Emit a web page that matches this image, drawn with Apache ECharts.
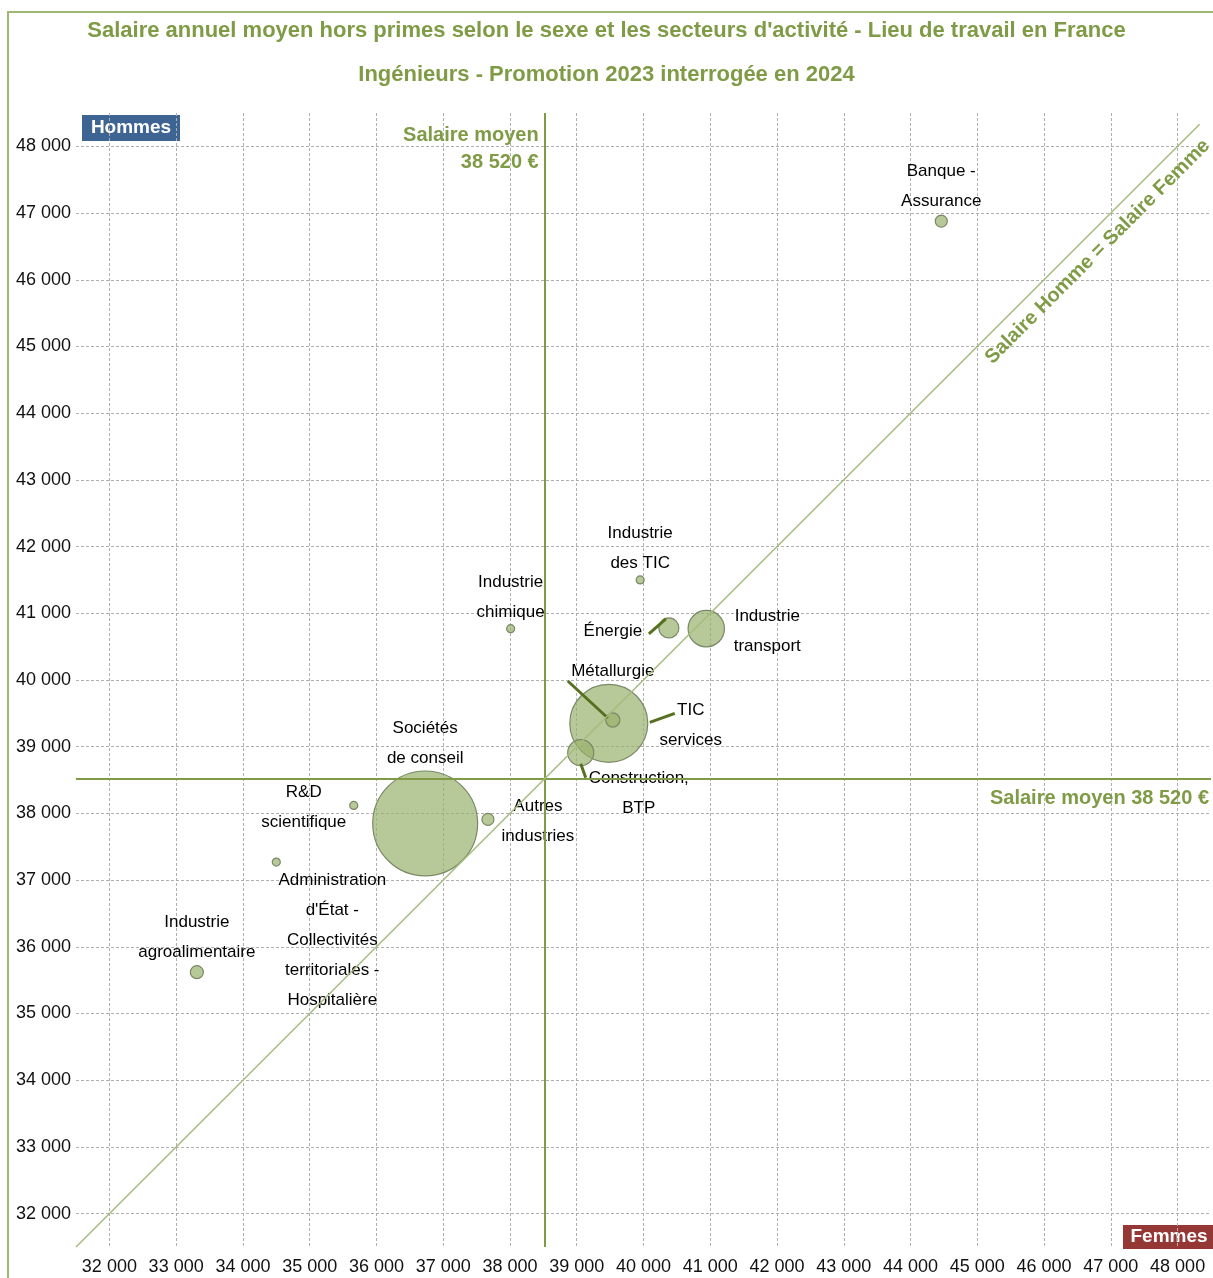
<!DOCTYPE html>
<html>
<head>
<meta charset="utf-8">
<title>Salaire annuel moyen hors primes - Ingénieurs</title>
<script src="https://cdn.jsdelivr.net/npm/echarts@6/dist/echarts.min.js"></script>
<style>
  html, body { margin: 0; padding: 0; background: #fff; }
  #chart { width: 1213px; height: 1278px; }
</style>
</head>
<body>
<div id="chart"></div>
<script>
// secteurs d'activité (libellés sur deux lignes comme dans l'original)
const secteurs = [
  'Banque -\nAssurance',
  'Industrie\ndes TIC',
  'Industrie\nchimique',
  'Énergie',
  'Industrie\ntransport',
  'TIC\nservices',
  'Métallurgie',
  'Construction,\nBTP',
  'Sociétés\nde conseil',
  'Autres\nindustries',
  'R&D\nscientifique',
  "Administration\nd'État -\nCollectivités\nterritoriales -\nHospitalière",
  'Industrie\nagroalimentaire'
];
// salaire moyen des femmes (axe X) et des hommes (axe Y), en euros
const salaireFemmes = [44460, 39950, 38010, 40380, 40940, 39480, 39540, 39060, 36730, 37670, 35660, 34500, 33310];
const salaireHommes = [46880, 41500, 40770, 40780, 40770, 39350, 39400, 38910, 37850, 37910, 38120, 37270, 35620];
// poids relatif de chaque secteur (surface des bulles)
const poids = [36, 16, 16, 100, 330, 1520, 50, 170, 2750, 36, 16, 16, 42];

const salaireMoyen = 38520;
const diagonale = [31500, 48330];
const axisMin = 31500;
const axisMax = 48500;

// décalage des étiquettes par rapport au centre des bulles
const decalages = [
  [0, -35], [0, -32], [0, -31], [-56, 3], [61, 3], [82, 2], [0, -49],
  [58, 41], [0, -80], [50, 2], [-50, 2], [56, 78], [0, -35]
];
// traits de rappel : deux points relatifs au centre de la bulle
const traits = {
  'Énergie': [[-20, 6], [-3, -9]],
  'Métallurgie': [[-45, -39], [-5, -2]],
  'TIC\nservices': [[41, -1], [66, -10]],
  'Construction,\nBTP': [[0, 11], [5, 25]]
};

const police = '"Liberation Sans", Arial, sans-serif';
const vert = '#7f9b45';
const fmt = v => String(v).replace(/\B(?=(\d{3})+(?!\d))/g, ' ');

const chart = echarts.init(document.getElementById('chart'));

const option = {
  backgroundColor: '#fff',
  animation: false,
  title: {
    text: "Salaire annuel moyen hors primes selon le sexe et les secteurs d'activité - Lieu de travail en France",
    subtext: 'Ingénieurs - Promotion 2023 interrogée en 2024',
    left: 'center',
    top: 15,
    itemGap: 22,
    textStyle: { color: vert, fontFamily: police, fontWeight: 'bold', fontSize: 22 },
    subtextStyle: { color: vert, fontFamily: police, fontWeight: 'bold', fontSize: 22 }
  },
  grid: { left: 76, top: 113, width: 1135, height: 1134 },
  xAxis: {
    type: 'value',
    min: axisMin,
    max: axisMax,
    splitNumber: 17,
    axisLine: { show: false },
    axisTick: { show: false },
    axisLabel: {
      showMinLabel: false,
      showMaxLabel: false,
      hideOverlap: false,
      margin: 11,
      color: '#111',
      fontFamily: police,
      fontSize: 18,
      formatter: fmt
    },
    splitLine: {
      show: true,
      showMinLine: false,
      showMaxLine: false,
      lineStyle: { color: '#b0b0b0', width: 1, type: [3, 2] }
    }
  },
  yAxis: {
    type: 'value',
    min: axisMin,
    max: axisMax,
    splitNumber: 17,
    axisLine: { show: false },
    axisTick: { show: false },
    axisLabel: {
      showMinLabel: false,
      showMaxLabel: false,
      hideOverlap: false,
      margin: 5,
      color: '#111',
      fontFamily: police,
      fontSize: 18,
      formatter: fmt
    },
    splitLine: {
      show: true,
      showMinLine: false,
      showMaxLine: false,
      lineStyle: { color: '#b0b0b0', width: 1, type: [3, 2] }
    }
  },
  series: [
    {
      type: 'scatter',
      name: 'Secteurs',
      data: secteurs.map((s, i) => ({
        name: s,
        value: [salaireFemmes[i], salaireHommes[i], poids[i]],
        label: { offset: decalages[i] }
      })),
      symbolSize: v => 2 * Math.sqrt(v[2]),
      itemStyle: {
        opacity: 1,
        color: 'rgba(150, 176, 104, 0.68)',
        borderColor: '#7a8866',
        borderWidth: 1.2
      },
      emphasis: { disabled: true },
      label: {
        show: true,
        position: 'inside',
        formatter: p => p.name,
        color: '#000',
        fontFamily: police,
        fontSize: 17,
        lineHeight: 30,
        align: 'center',
        verticalAlign: 'middle'
      },
      markLine: {
        silent: true,
        symbol: 'none',
        animation: false,
        data: [
          { xAxis: salaireMoyen, lineStyle: { color: vert, width: 2, type: 'solid' }, label: { show: false } },
          { yAxis: salaireMoyen, lineStyle: { color: vert, width: 2, type: 'solid' }, label: { show: false } },
          [
            { coord: [diagonale[0], diagonale[0]] },
            {
              coord: [diagonale[1], diagonale[1]],
              lineStyle: { color: '#a6bc7e', width: 1.5, type: 'solid' },
              label: {
                show: true,
                position: 'insideEndBottom',
                distance: 8,
                formatter: 'Salaire Homme = Salaire Femme',
                color: vert,
                fontFamily: police,
                fontWeight: 'bold',
                fontSize: 20
              }
            }
          ]
        ]
      }
    },
    {
      // traits de rappel entre bulle et étiquette
      type: 'custom',
      silent: true,
      z: 3,
      data: Object.keys(traits).map(n => {
        const i = secteurs.indexOf(n);
        return [salaireFemmes[i], salaireHommes[i], i];
      }),
      renderItem: (params, api) => {
        const c = api.coord([api.value(0), api.value(1)]);
        const t = traits[secteurs[api.value(2)]];
        return {
          type: 'line',
          shape: { x1: c[0] + t[0][0], y1: c[1] + t[0][1], x2: c[0] + t[1][0], y2: c[1] + t[1][1] },
          style: { stroke: '#55701f', lineWidth: 3 }
        };
      }
    },
    {
      // annotations du salaire moyen
      type: 'scatter',
      silent: true,
      symbolSize: 0,
      itemStyle: { opacity: 1 },
      data: [
        {
          value: [salaireMoyen, axisMax],
          label: { formatter: 'Salaire moyen\n' + fmt(salaireMoyen) + ' €', offset: [-6, 36], align: 'right' }
        },
        {
          value: [axisMax, salaireMoyen],
          label: { formatter: 'Salaire moyen ' + fmt(salaireMoyen) + ' €', offset: [-2, 20], align: 'right' }
        }
      ],
      label: {
        show: true,
        position: 'inside',
        verticalAlign: 'middle',
        color: vert,
        fontFamily: police,
        fontWeight: 'bold',
        fontSize: 20,
        lineHeight: 27
      }
    }
  ],
  graphic: [
    {
      type: 'rect',
      silent: true,
      shape: { x: 8, y: 12, width: 1300, height: 1400 },
      style: { fill: 'none', stroke: '#9fb873', lineWidth: 2 }
    },
    {
      type: 'group',
      left: 82,
      top: 115,
      children: [
        { type: 'rect', shape: { x: 0, y: 0, width: 98, height: 26 }, style: { fill: '#3e6494' } },
        {
          type: 'text', x: 49, y: 13,
          style: { text: 'Hommes', fill: '#fff', font: 'bold 19px ' + police, align: 'center', verticalAlign: 'middle' }
        }
      ]
    },
    {
      type: 'group',
      left: 1123,
      top: 1225,
      children: [
        { type: 'rect', shape: { x: 0, y: 0, width: 92, height: 24 }, style: { fill: '#953735' } },
        {
          type: 'text', x: 46, y: 12,
          style: { text: 'Femmes', fill: '#fff', font: 'bold 19px ' + police, align: 'center', verticalAlign: 'middle' }
        }
      ]
    }
  ]
};

chart.setOption(option);
</script>
</body>
</html>
